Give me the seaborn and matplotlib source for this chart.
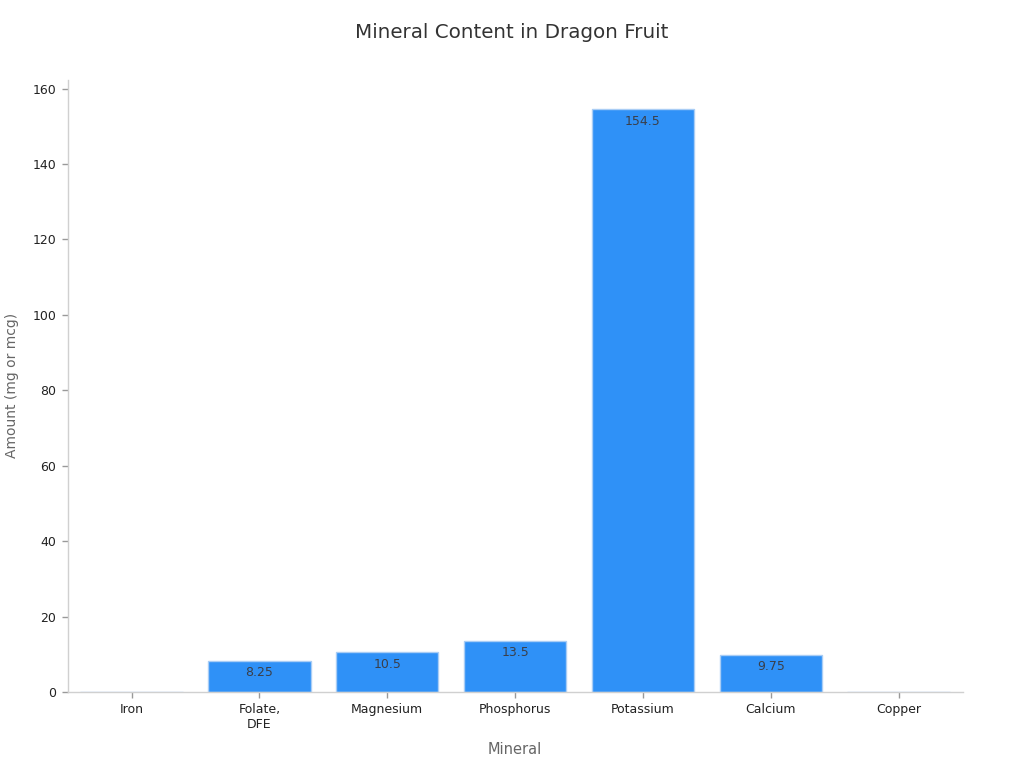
import matplotlib
matplotlib.use("Agg")
import matplotlib.pyplot as plt
import seaborn as sns
import pandas as pd

minerals = ["Iron", "Folate,\nDFE", "Magnesium", "Phosphorus", "Potassium", "Calcium", "Copper"]
amounts = [0.1, 8.25, 10.5, 13.5, 154.5, 9.75, 0.05]
labels = ["", "8.25", "10.5", "13.5", "154.5", "9.75", ""]

sns.set_theme(style="white")
plt.rcParams['font.family'] = ['DejaVu Sans']

df = pd.DataFrame({"Mineral": minerals, "Amount": amounts})

fig = plt.figure(figsize=(10.24, 7.68), dpi=100)
ax = fig.add_axes([0.066, 0.099, 0.874, 0.797])
sns.barplot(data=df, x="Mineral", y="Amount", color="#2F91F7", saturation=1,
            width=0.8, edgecolor="#A9CDF5", linewidth=1, ax=ax)

for bar, lab in zip(ax.patches, labels):
    if lab:
        ax.text(bar.get_x() + bar.get_width() / 2, bar.get_height() - 1.4, lab,
                ha="center", va="top", fontsize=9, color="#3a3f4a")

ax.set_ylim(0, 162.3)
ax.set_xlim(-0.5, 6.5)
ax.set_yticks([0, 20, 40, 60, 80, 100, 120, 140, 160])
ax.tick_params(axis="both", labelsize=9, colors="#222222", length=4, width=1, color="#999999", pad=4)
ax.tick_params(axis="both", bottom=True, left=True)
for s in ["top", "right"]:
    ax.spines[s].set_visible(False)
for s in ["left", "bottom"]:
    ax.spines[s].set_color("#d0d0d0")
    ax.spines[s].set_linewidth(1)
ax.set_xlabel("Mineral", fontsize=10.5, color="#666666", labelpad=8)
ax.set_ylabel("Amount (mg or mcg)", fontsize=10, color="#666666", labelpad=10)
fig.suptitle("Mineral Content in Dragon Fruit", fontsize=14.3, color="#333333", y=0.97)

fig.savefig("out.png", dpi=100)
